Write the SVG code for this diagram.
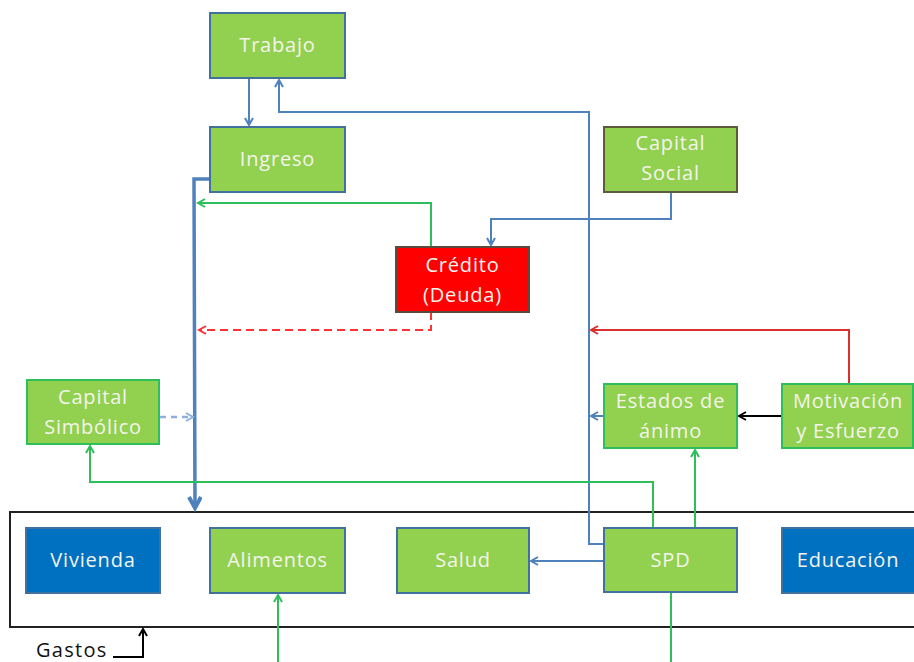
<svg xmlns="http://www.w3.org/2000/svg" width="914" height="662" viewBox="0 0 914 662">
  <style>
    .box text { font-family: "Open Sans", "Liberation Sans", sans-serif; font-size: 20px; fill: #f4f4ec; text-anchor: middle; letter-spacing: 0.8px; }
    .g-blue { fill: #92d050; stroke: #41719c; stroke-width: 2; }
    .g-green { fill: #92d050; stroke: #2ebf5a; stroke-width: 2; }
    .g-olive { fill: #92d050; stroke: #5e5a3c; stroke-width: 2; }
    .red { fill: #ff0000; stroke: #5e4a3c; stroke-width: 2; }
    .blue { fill: #0070c0; stroke: #41719c; stroke-width: 2; }
    .c { fill: none; stroke-width: 2; }
    .cb { stroke: #4f81bd; }
    .cg { stroke: #2ebf5a; }
    .cr { stroke: #d8312e; }
    .ck { stroke: #000; }
    .thick { stroke: #4f81bd; stroke-width: 3.5; }
    .dash-red { stroke: #ff3333; stroke-dasharray: 8 5; }
    .dash-blue { stroke: #8fb0dc; stroke-width: 2.5; stroke-dasharray: 6 5; }
  </style>
  <defs>
    <marker id="ab" markerUnits="userSpaceOnUse" markerWidth="12" markerHeight="12" refX="8" refY="5" orient="auto">
      <path d="M1,1 L8,5 L1,9" fill="none" stroke="#4f81bd" stroke-width="2"/>
    </marker>
    <marker id="abl" markerUnits="userSpaceOnUse" markerWidth="12" markerHeight="12" refX="8" refY="5" orient="auto">
      <path d="M1,1 L8,5 L1,9" fill="none" stroke="#8fb0dc" stroke-width="2"/>
    </marker>
    <marker id="abt" markerUnits="userSpaceOnUse" markerWidth="16" markerHeight="16" refX="12" refY="7" orient="auto">
      <path d="M1,1 L12,7 L1,13" fill="none" stroke="#4f81bd" stroke-width="4"/>
    </marker>
    <marker id="ag" markerUnits="userSpaceOnUse" markerWidth="12" markerHeight="12" refX="8" refY="5" orient="auto">
      <path d="M1,1 L8,5 L1,9" fill="none" stroke="#2ebf5a" stroke-width="2"/>
    </marker>
    <marker id="ar" markerUnits="userSpaceOnUse" markerWidth="12" markerHeight="12" refX="8" refY="5" orient="auto">
      <path d="M1,1 L8,5 L1,9" fill="none" stroke="#d8312e" stroke-width="2"/>
    </marker>
    <marker id="ard" markerUnits="userSpaceOnUse" markerWidth="12" markerHeight="12" refX="8" refY="5" orient="auto">
      <path d="M1,1 L8,5 L1,9" fill="none" stroke="#ff3333" stroke-width="2"/>
    </marker>
    <marker id="ak" markerUnits="userSpaceOnUse" markerWidth="12" markerHeight="12" refX="8" refY="5" orient="auto">
      <path d="M1,1 L8,5 L1,9" fill="none" stroke="#000" stroke-width="2"/>
    </marker>
  </defs>

  <rect width="914" height="662" fill="#ffffff"/>

  <!-- Gastos container -->
  <g id="gastos">
    <path d="M916,512 L10,512 L10,627 L916,627" fill="none" stroke="#222" stroke-width="2"/>
    <text x="36" y="657" font-family="Open Sans, Liberation Sans, sans-serif" font-size="20" fill="#111" letter-spacing="1.3">Gastos</text>
  </g>

  <!-- connectors -->
  <g id="connectors">
    <!-- Trabajo to Ingreso -->
    <path class="c cb" d="M249,78 L249,125" marker-end="url(#ab)"/>
    <!-- SPD back to Trabajo -->
    <path class="c cb" d="M604,544 L589,544 L589,112 L279,112 L279,80" marker-end="url(#ab)"/>
    <!-- Ingreso down to Gastos (thick) -->
    <path class="c thick" d="M210,179 L194,179 L195,508" marker-end="url(#abt)"/>
    <!-- Crédito to Ingreso line -->
    <path class="c cg" d="M431,247 L431,203 L198,203" marker-end="url(#ag)"/>
    <!-- Crédito dashed repayment -->
    <path class="c dash-red" d="M431,312 L431,330 L199,330" marker-end="url(#ard)"/>
    <!-- Capital Social to Crédito -->
    <path class="c cb" d="M671,192 L671,219 L491,219 L491,245" marker-end="url(#ab)"/>
    <!-- Motivación to central line -->
    <path class="c cr" d="M849,384 L849,330 L591,330" marker-end="url(#ar)"/>
    <!-- Estados de ánimo to central line -->
    <path class="c cb" d="M604,416 L591,416" marker-end="url(#ab)"/>
    <!-- Motivación to Estados de ánimo -->
    <path class="c ck" d="M782,416 L739,416" marker-end="url(#ak)"/>
    <!-- Capital Simbólico dashed -->
    <path class="c dash-blue" d="M160,417 L193,417" marker-end="url(#abl)"/>
    <!-- SPD to Capital Simbólico -->
    <path class="c cg" d="M653,528 L653,482 L90,482 L90,446" marker-end="url(#ag)"/>
    <!-- SPD to Estados de ánimo -->
    <path class="c cg" d="M695,528 L695,450" marker-end="url(#ag)"/>
    <!-- SPD to Salud -->
    <path class="c cb" d="M604,561 L531,561" marker-end="url(#ab)"/>
    <!-- SPD downward -->
    <path class="c cg" d="M671,592 L671,662"/>
    <!-- into Alimentos -->
    <path class="c cg" d="M278,662 L278,595" marker-end="url(#ag)"/>
    <!-- Gastos label pointer -->
    <path class="c ck" d="M113,657 L143,657 L143,629" marker-end="url(#ak)"/>
  </g>

  <!-- nodes -->
  <g id="trabajo" class="box">
    <rect class="g-blue" x="210" y="13" width="135" height="65"/>
    <text x="277.5" y="52">Trabajo</text>
  </g>
  <g id="ingreso" class="box">
    <rect class="g-blue" x="210" y="127" width="135" height="65"/>
    <text x="277.5" y="166">Ingreso</text>
  </g>
  <g id="capital-social" class="box">
    <rect class="g-olive" x="604" y="127" width="133" height="65"/>
    <text x="670.5" y="150">Capital</text>
    <text x="670.5" y="180">Social</text>
  </g>
  <g id="credito" class="box">
    <rect class="red" x="396" y="247" width="133" height="65"/>
    <text x="462.5" y="272">Crédito</text>
    <text x="462.5" y="302">(Deuda)</text>
  </g>
  <g id="capital-simbolico" class="box">
    <rect class="g-green" x="27" y="380" width="132" height="64"/>
    <text x="93" y="404">Capital</text>
    <text x="93" y="434">Simbólico</text>
  </g>
  <g id="estados-animo" class="box">
    <rect class="g-green" x="604" y="384" width="133" height="64"/>
    <text x="670.5" y="408" letter-spacing="0">Estados de</text>
    <text x="670.5" y="438">ánimo</text>
  </g>
  <g id="motivacion" class="box">
    <rect class="g-green" x="782" y="384" width="131" height="64"/>
    <text x="848" y="408" letter-spacing="0.2">Motivación</text>
    <text x="848" y="438" letter-spacing="0.2">y Esfuerzo</text>
  </g>
  <g id="vivienda" class="box">
    <rect class="blue" x="26" y="528" width="134" height="65"/>
    <text x="93" y="567">Vivienda</text>
  </g>
  <g id="alimentos" class="box">
    <rect class="g-blue" x="210" y="528" width="135" height="65"/>
    <text x="277.5" y="567">Alimentos</text>
  </g>
  <g id="salud" class="box">
    <rect class="g-blue" x="397" y="528" width="132" height="65"/>
    <text x="463" y="567">Salud</text>
  </g>
  <g id="spd" class="box">
    <rect class="g-blue" x="604" y="528" width="133" height="64"/>
    <text x="670.5" y="567">SPD</text>
  </g>
  <g id="educacion" class="box">
    <rect class="blue" x="782" y="528" width="140" height="65"/>
    <text x="848" y="567" letter-spacing="0.3">Educación</text>
  </g>
</svg>
